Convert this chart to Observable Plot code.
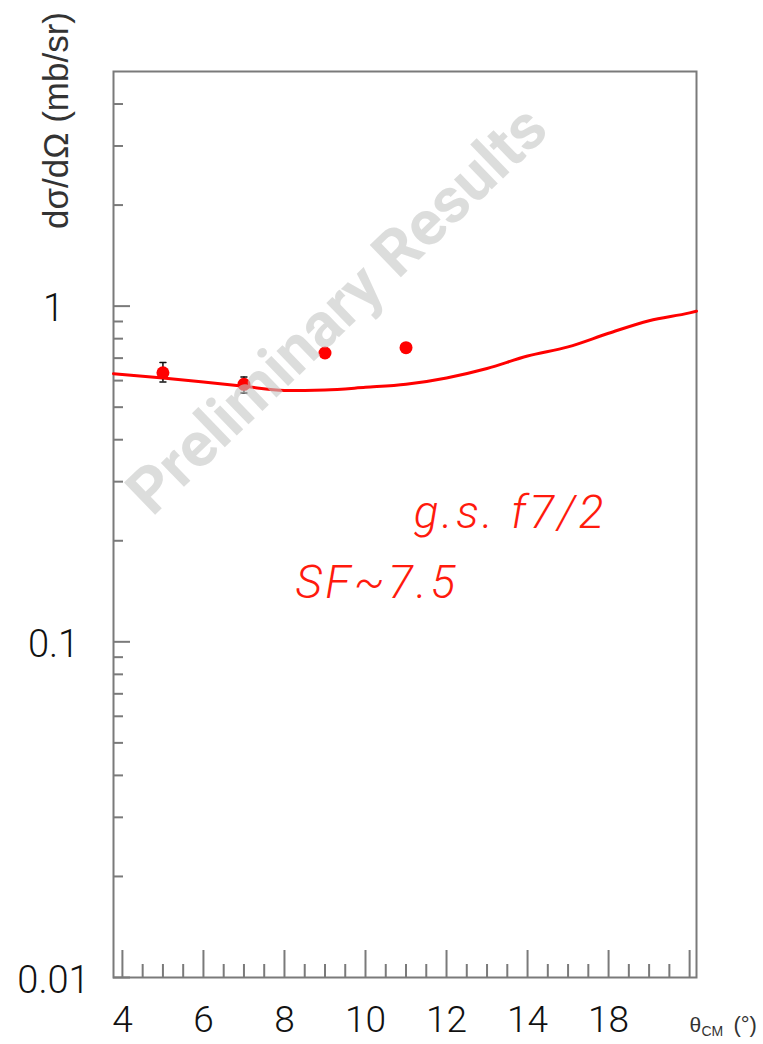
<!DOCTYPE html>
<html>
<head>
<meta charset="utf-8">
<script src="https://cdn.jsdelivr.net/npm/d3@7"></script>
<script src="https://cdn.jsdelivr.net/npm/@observablehq/plot@0.6"></script>
<style>
  html, body { margin: 0; padding: 0; background: #fff; }
  #chart svg { display: block; }
</style>
</head>
<body>
<div id="chart"></div>
<script>
// ---- data ----
const xMajorTicks = [4, 6, 8, 10, 12, 14, 16, 18];
const xTickLabels = ["4", "6", "8", "10", "12", "14", "18", ""];
const xMinorTicks = [4.5, 5, 5.5, 6.5, 7, 7.5, 8.5, 9, 9.5, 10.5, 11, 11.5, 12.5, 13, 13.5, 14.5, 15, 15.5, 16.5, 17, 17.5];
const yMajorTicks = [0.01, 0.1, 1];
const yTickLabels = ["0.01", "0.1", "1"];
const yMinorTicks = [0.02, 0.03, 0.04, 0.05, 0.06, 0.07, 0.08, 0.09,
                     0.2, 0.3, 0.4, 0.5, 0.6, 0.7, 0.8, 0.9, 2, 3, 4];

const dataAngle = [5, 7, 9, 11];
const dataXS = [0.633, 0.585, 0.725, 0.752];
const dataLo = [0.594, 0.551, 0.712, 0.740];
const dataHi = [0.679, 0.615, 0.738, 0.764];

const curveAngle = [3.78, 5, 6, 7, 8, 9, 10, 11, 12, 13, 14, 15, 16, 17, 18, 18.17];
const curveXS = [0.629, 0.611, 0.594, 0.577, 0.561, 0.563, 0.573, 0.585, 0.611, 0.652, 0.71, 0.756, 0.83, 0.905, 0.955, 0.966];

const notes = [
  {x: 11.19, y: 0.218, text: "g.s. f7/2"},
  {x: 8.27, y: 0.135, text: "SF~7.5"}
];
const watermark = [{x: 9.31, y: 0.971, text: "Preliminary Results"}];

// ---- tables ----
const points = dataAngle.map((a, i) => ({angle: a, xs: dataXS[i], lo: dataLo[i], hi: dataHi[i]}));
const curve = curveAngle.map((a, i) => ({angle: a, xs: curveXS[i]}));

const W = 763, H = 1044, ML = 113, MR = 67, MT = 71, MB = 67;
const FW = W - ML - MR, FH = H - MT - MB;
const axisGray = "#7a7a7a";
const red = "#ff1a0d";
const sans = "'Liberation Sans', Arial, sans-serif";
const capShape = {draw(ctx, l) { ctx.moveTo(-l / 2, 0); ctx.lineTo(l / 2, 0); }};

const chart = Plot.plot({
  width: W, height: H,
  marginLeft: ML, marginRight: MR, marginTop: MT, marginBottom: MB,
  style: {background: "#fff", fontFamily: "Roboto, 'Liberation Sans', sans-serif"},
  x: {type: "linear", domain: [3.78, 18.17], axis: null},
  y: {type: "log", domain: [0.01, 5], axis: null},
  marks: [
    // ticks
    Plot.tickX(xMinorTicks, {x: d => d, stroke: axisGray, strokeWidth: 2, insetTop: FH - 13}),
    Plot.tickX(xMajorTicks, {x: d => d, stroke: axisGray, strokeWidth: 2, insetTop: FH - 27}),
    Plot.tickY(yMinorTicks, {y: d => d, stroke: axisGray, strokeWidth: 2, insetRight: FW - 10}),
    Plot.tickY(yMajorTicks, {y: d => d, stroke: axisGray, strokeWidth: 2, insetRight: FW - 17}),
    Plot.frame({stroke: axisGray, strokeWidth: 2}),
    // tick labels
    Plot.text(xMajorTicks, {x: d => d, text: (d, i) => xTickLabels[i], frameAnchor: "bottom", dy: 43,
      lineAnchor: "middle", fontSize: 37, fontWeight: 300, fill: "#111"}),
    Plot.text(yMajorTicks, {y: d => d, text: (d, i) => yTickLabels[i], frameAnchor: "left", dx: -60, dy: 3,
      textAnchor: "middle", lineAnchor: "middle", fontSize: 38, fontWeight: 300, fill: "#111"}),
    // axis titles
    Plot.text(["dσ/dΩ (mb/sr)"], {text: d => d, frameAnchor: "top-left", dx: -57, dy: 49, rotate: -90,
      textAnchor: "middle", lineAnchor: "middle", fontSize: 35, fill: "#333", fontFamily: sans}),
    Plot.text(["θ"], {text: d => d, frameAnchor: "bottom-right", dx: -7, dy: 54, textAnchor: "start",
      lineAnchor: "bottom", fontSize: 21, fill: "#333", fontFamily: sans}),
    Plot.text(["CM"], {text: d => d, frameAnchor: "bottom-right", dx: 5, dy: 58, textAnchor: "start",
      lineAnchor: "bottom", fontSize: 14, fill: "#333", fontFamily: sans}),
    Plot.text(["(°)"], {text: d => d, frameAnchor: "bottom-right", dx: 37, dy: 54, textAnchor: "start",
      lineAnchor: "bottom", fontSize: 22, fill: "#333", fontFamily: sans}),
    // theory curve
    Plot.line(curve, {x: "angle", y: "xs", stroke: "#ff0000", strokeWidth: 3, curve: "monotone-x"}),
    // error bars
    Plot.ruleX(points, {x: "angle", y1: "lo", y2: "hi", stroke: "#111", strokeWidth: 1.5}),
    Plot.vector(points, {x: "angle", y: "lo", length: 6, anchor: "start", shape: capShape, stroke: "#111", strokeWidth: 1.5}),
    Plot.vector(points, {x: "angle", y: "hi", length: 6, anchor: "start", shape: capShape, stroke: "#111", strokeWidth: 1.5}),
    // data points
    Plot.dot(points, {x: "angle", y: "xs", r: 6.5, fill: "#ff0000", stroke: "none"}),
    // annotations
    Plot.text(notes, {x: "x", y: "y", text: "text", textAnchor: "start", lineAnchor: "bottom",
      fontSize: 46, fontStyle: "italic", fontWeight: 300, fill: red}),
    // watermark
    Plot.text(watermark, {x: "x", y: "y", text: "text", rotate: -44, textAnchor: "middle", lineAnchor: "middle",
      fontSize: 63, fontWeight: "bold", fill: "#c4c6c4", fillOpacity: 0.6})
  ]
});
// widen the hand-lettered annotations a little
const noteTexts = new Set(notes.map(d => d.text));
d3.select(chart).selectAll("text")
  .filter(function() { return noteTexts.has(this.textContent); })
  .attr("letter-spacing", "3.5px");
document.getElementById("chart").appendChild(chart);
</script>
</body>
</html>
